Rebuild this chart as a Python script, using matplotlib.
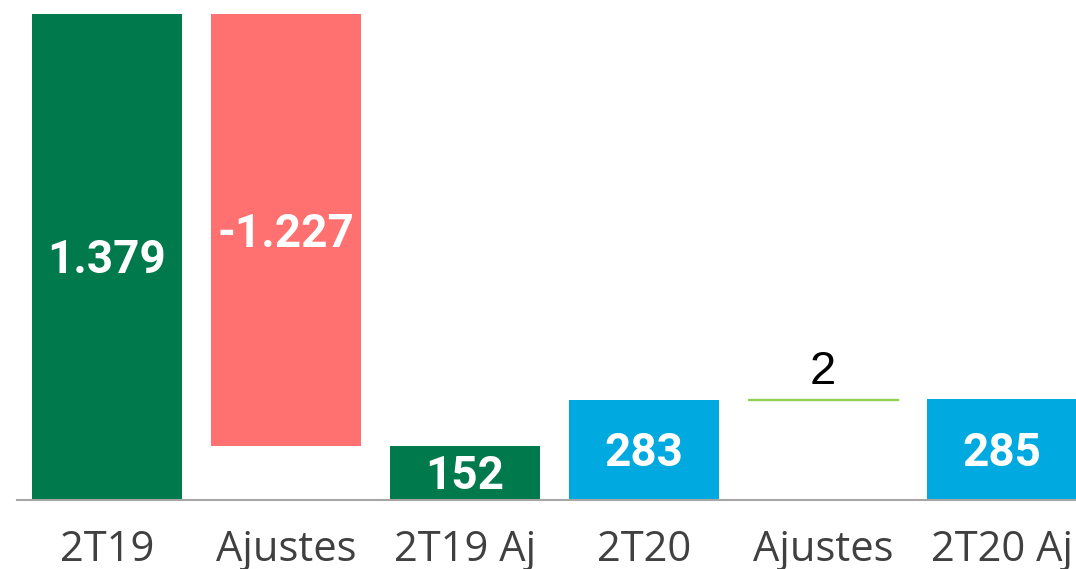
import matplotlib
matplotlib.use("Agg")
import matplotlib.pyplot as plt

categories = ["2T19", "Ajustes", "2T19 Aj", "2T20", "Ajustes", "2T20 Aj"]
values = [1379, -1227, 152, 283, 2, 285]
labels = ["1.379", "-1.227", "152", "283", "2", "285"]
kinds = ["total", "delta", "total", "total", "delta", "total"]
colors = ["#007A4D", "#FF7070", "#007A4D", "#00AAE0", "#92D050", "#00AAE0"]

fig = plt.figure(figsize=(10.76, 5.69), dpi=100)
ax = fig.add_axes([0.0158, 0.1221, 1 - 0.0158, 1 - 0.1221])

running = 0
bottoms, heights = [], []
for v, k in zip(values, kinds):
    if k == "total":
        bottoms.append(0)
        heights.append(v)
        running = v
    else:
        if v >= 0:
            bottoms.append(running)
            heights.append(v)
        else:
            bottoms.append(running + v)
            heights.append(-v)
        running += v

x = list(range(len(categories)))
width = 0.838
for i in x:
    if i == 4:
        ax.bar(i, heights[i], bottom=bottoms[i], width=width, color=colors[i],
               edgecolor=colors[i], linewidth=1.0)
    else:
        ax.bar(i, heights[i], bottom=bottoms[i], width=width, color=colors[i],
               linewidth=0)

for i in x:
    if i == 4:
        ax.text(i, bottoms[i] + heights[i] + 43, labels[i], ha="center", va="baseline",
                fontsize=34, color="black", family="Liberation Sans")
    else:
        ax.text(i, bottoms[i] + heights[i] / 2 - 10, labels[i], ha="center", va="center",
                fontsize=33, color="white", fontweight="bold", family="Roboto")

ax.set_xlim(-0.503, 5.413)
ax.set_ylim(0, 1419)
ax.set_xticks(x)
ax.set_xticklabels(categories, fontsize=30, color="#404040", family="Open Sans")
ax.tick_params(axis="x", length=0, pad=21)
ax.set_yticks([])
for s in ["top", "right", "left"]:
    ax.spines[s].set_visible(False)
ax.spines["bottom"].set_color("#A6A6A6")
ax.spines["bottom"].set_linewidth(1.5)

fig.savefig("out.png", dpi=100)
